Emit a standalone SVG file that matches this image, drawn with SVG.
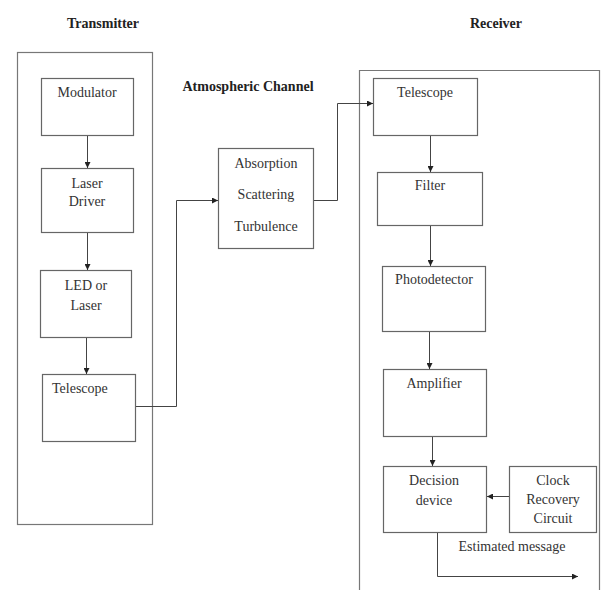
<svg xmlns="http://www.w3.org/2000/svg" width="601" height="590" viewBox="0 0 601 590">
<defs>
<marker id="ah" viewBox="0 0 8 8" refX="8" refY="4" markerWidth="6" markerHeight="6" orient="auto" markerUnits="userSpaceOnUse">
<path d="M0,0 L8,4 L0,8 z" fill="#222"/>
</marker>
</defs>
<style>
.box{fill:none;stroke:#666;stroke-width:1.2}
.frame{fill:none;stroke:#777;stroke-width:1.2}
.t{font-family:"Liberation Serif","Times New Roman",serif;font-size:14px;fill:#333;text-anchor:middle}
.tl{text-anchor:start}
.h{font-family:"Liberation Serif","Times New Roman",serif;font-size:14px;font-weight:bold;fill:#222;text-anchor:middle}
.c{fill:none;stroke:#444;stroke-width:1}
</style>
<rect width="601" height="590" fill="#fff"/>
<g id="titles">
<text class="h" x="103" y="28">Transmitter</text>
<text class="h" x="248" y="91">Atmospheric Channel</text>
<text class="h" x="496" y="28">Receiver</text>
</g>
<g id="transmitter-frame"><rect class="frame" x="17.5" y="52.5" width="135" height="472"/></g>
<g id="receiver-frame"><path class="frame" d="M359.5,592 V70.5 H599.5 V592"/></g>
<g id="modulator"><rect class="box" x="41.5" y="78.5" width="92" height="57"/><text class="t" x="87" y="97">Modulator</text></g>
<g id="laser-driver"><rect class="box" x="41.5" y="168.5" width="92" height="64"/><text class="t" x="87" y="188">Laser</text><text class="t" x="87" y="206">Driver</text></g>
<g id="led-laser"><rect class="box" x="40.5" y="270.5" width="91" height="67"/><text class="t" x="86" y="290">LED or</text><text class="t" x="86" y="310">Laser</text></g>
<g id="tx-telescope"><rect class="box" x="42.5" y="374.5" width="93" height="67"/><text class="t tl" x="52" y="393">Telescope</text></g>
<g id="channel"><rect class="box" x="218.5" y="148.5" width="95" height="100"/><text class="t" x="266" y="168">Absorption</text><text class="t" x="266" y="199">Scattering</text><text class="t" x="266" y="231">Turbulence</text></g>
<g id="rx-telescope"><rect class="box" x="373.5" y="78.5" width="104" height="57"/><text class="t" x="425" y="97">Telescope</text></g>
<g id="filter"><rect class="box" x="377.5" y="172.5" width="105" height="53"/><text class="t" x="430" y="190">Filter</text></g>
<g id="photodetector"><rect class="box" x="382.5" y="266.5" width="103" height="65"/><text class="t" x="434" y="284">Photodetector</text></g>
<g id="amplifier"><rect class="box" x="383.5" y="369.5" width="103" height="67"/><text class="t" x="434" y="388">Amplifier</text></g>
<g id="decision"><rect class="box" x="383.5" y="466.5" width="103" height="66"/><text class="t" x="434" y="485">Decision</text><text class="t" x="434" y="505">device</text></g>
<g id="clock"><rect class="box" x="509.5" y="466.5" width="87" height="66"/><text class="t" x="553" y="485">Clock</text><text class="t" x="553" y="504">Recovery</text><text class="t" x="553" y="523">Circuit</text></g>
<g id="label-estimated"><text class="t" x="512" y="551">Estimated message</text></g>
<g id="connectors">
<line class="c" x1="87.5" y1="136" x2="87.5" y2="168" marker-end="url(#ah)"/>
<line class="c" x1="87.5" y1="233" x2="87.5" y2="270" marker-end="url(#ah)"/>
<line class="c" x1="86.5" y1="338" x2="86.5" y2="374" marker-end="url(#ah)"/>
<path class="c" d="M136,406.5 H176.5 V200.5 H218" marker-end="url(#ah)"/>
<path class="c" d="M314,200.5 H337.5 V103.5 H373" marker-end="url(#ah)"/>
<line class="c" x1="430.5" y1="136" x2="430.5" y2="172" marker-end="url(#ah)"/>
<line class="c" x1="430.5" y1="226" x2="430.5" y2="266" marker-end="url(#ah)"/>
<line class="c" x1="429.5" y1="332" x2="429.5" y2="369" marker-end="url(#ah)"/>
<line class="c" x1="432.5" y1="437" x2="432.5" y2="466" marker-end="url(#ah)"/>
<line class="c" x1="509" y1="496.5" x2="487" y2="496.5" marker-end="url(#ah)"/>
<path class="c" d="M437.5,533 V576.5 H578" marker-end="url(#ah)"/>
</g>
</svg>
